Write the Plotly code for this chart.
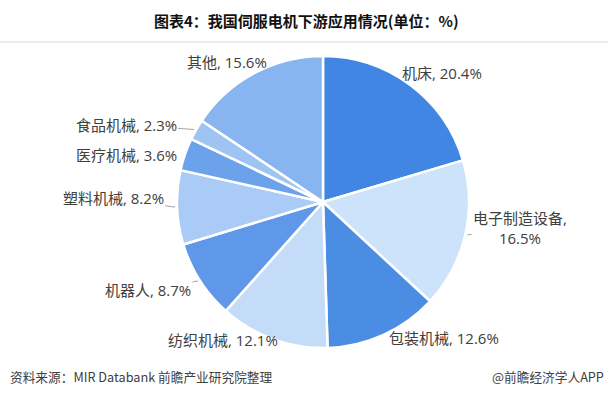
import math
import plotly.graph_objects as go

categories = ["机床", "电子制造设备", "包装机械", "纺织机械", "机器人", "塑料机械", "医疗机械", "食品机械", "其他"]
values = [20.4, 16.5, 12.6, 12.1, 8.7, 8.2, 3.6, 2.3, 15.6]
colors = ["#4186E2", "#CDE2FB", "#4C8DE4", "#C5DCF9", "#5F98E9", "#A9CBF6", "#6CA1EC", "#9EC4F4", "#88B4EF"]

# label layout (style/positions only): text offset from slice edge midpoint in px, leader line?
label_offsets = {
    "机床": (32, -12, False),
    "电子制造设备": (55, -7, True),
    "包装机械": (61, 3, False),
    "纺织机械": (-50, 1, False),
    "机器人": (-52, 9, True),
    "塑料机械": (-64, -10, True),
    "医疗机械": (-59, 1, False),
    "食品机械": (-70, -5, True),
    "其他": (-27, -11, False),
}
wrap_labels = ["电子制造设备"]

W, H = 608, 395
cx, cy, r = 323, 202, 146
LABEL_FONT = dict(family="Open Sans, Noto Sans CJK SC", size=15, color="#404040")

fig = go.Figure(go.Pie(
    labels=categories,
    values=values,
    textinfo="none",
    sort=False,
    direction="clockwise",
    rotation=0,
    marker=dict(colors=colors, line=dict(color="white", width=2.5)),
    showlegend=False,
    hoverinfo="label+value",
    domain=dict(x=[(cx - r) / W, (cx + r) / W], y=[(H - cy - r) / H, (H - cy + r) / H]),
))

total = sum(values)
cum = 0.0
for c, v in zip(categories, values):
    mid = (cum + v / 2) / total * 2 * math.pi
    cum += v
    ex = cx + r * math.sin(mid)
    ey = cy - r * math.cos(mid)
    dx, dy, leader = label_offsets[c]
    txt = f"{c},<br>{v}%" if c in wrap_labels else f"{c}, {v}%"
    if leader:
        fig.add_annotation(text=txt, xref="paper", yref="paper", x=ex / W, y=(H - ey) / H,
                           ax=dx, ay=dy, showarrow=True, arrowhead=0, arrowwidth=1,
                           arrowcolor="#A6A6A6", standoff=2, font=LABEL_FONT)
    else:
        fig.add_annotation(text=txt, xref="paper", yref="paper", x=(ex + dx) / W, y=(H - ey - dy) / H,
                           showarrow=False, xanchor="center", yanchor="middle", font=LABEL_FONT)

fig.add_shape(type="line", xref="paper", yref="paper", x0=0, x1=1,
              y0=(H - 42) / H, y1=(H - 42) / H, line=dict(color="#D9D9D9", width=1))

fig.add_annotation(text="<b>图表4：我国伺服电机下游应用情况(单位：%)</b>", xref="paper", yref="paper",
                   x=306 / W, y=(H - 20) / H, xanchor="center", yanchor="middle", showarrow=False,
                   font=dict(family="Noto Sans CJK SC", size=15, color="#111111"))
fig.add_annotation(text="资料来源：MIR Databank 前瞻产业研究院整理", xref="paper", yref="paper",
                   x=8 / W, y=(H - 376) / H, xanchor="left", yanchor="middle", showarrow=False,
                   font=dict(family="Noto Sans CJK SC", size=12.7, color="#404040"))
fig.add_annotation(text="@前瞻经济学人APP", xref="paper", yref="paper",
                   x=606 / W, y=(H - 376) / H, xanchor="right", yanchor="middle", showarrow=False,
                   font=dict(family="Noto Sans CJK SC", size=12.7, color="#404040"))

fig.update_layout(width=W, height=H, margin=dict(l=0, r=0, t=0, b=0),
                  paper_bgcolor="white", plot_bgcolor="white")

fig.write_html("out.html", config={"displayModeBar": False},
               post_script="document.body.style.margin='0';document.body.style.overflow='hidden';")
